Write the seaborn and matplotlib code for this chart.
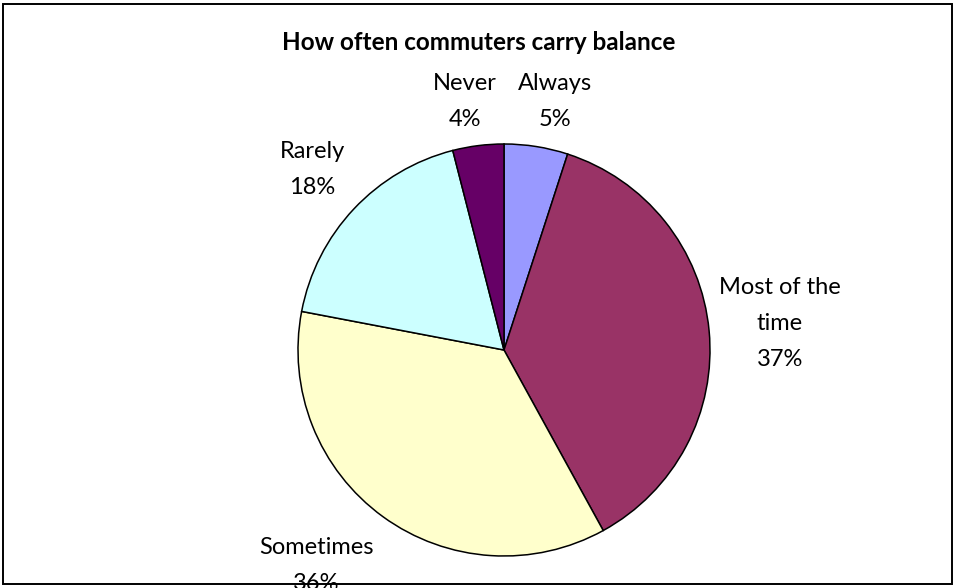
import matplotlib
matplotlib.use("Agg")
import matplotlib.pyplot as plt
from matplotlib.patches import Rectangle
import seaborn as sns

categories = ["Always", "Most of the time", "Sometimes", "Rarely", "Never"]
shares = [5, 37, 36, 18, 4]
label_lines = [["Always"], ["Most of the", "time"], ["Sometimes"], ["Rarely"], ["Never"]]
colors = ["#9999FF", "#993366", "#FFFFCC", "#CCFFFF", "#660066"]

sns.set_theme(style="white")
plt.rcParams["font.family"] = ["Lato", "DejaVu Sans"]

W, H = 955, 588
fig = plt.figure(figsize=(W / 100, H / 100), dpi=100)
ax = fig.add_axes([0, 0, 1, 1])

# pie in pixel coordinates (y measured from the bottom)
cx, cy, r = 504, H - 350, 206
ax.pie(shares, colors=colors, startangle=90, counterclock=False,
       center=(cx, cy), radius=r, frame=True,
       wedgeprops=dict(edgecolor="black", linewidth=1.1))
ax.set_xlim(0, W)
ax.set_ylim(0, H)
ax.set_aspect("equal")
ax.axis("off")

# label anchor points (center of the first text line), pixel coords from top
anchors = {
    "Always": (555, 83),
    "Most of the time": (780, 287),
    "Sometimes": (316, 547),
    "Rarely": (312, 151),
    "Never": (465, 83),
}
line_gap = 36
for cat, lines, val in zip(categories, label_lines, shares):
    x, y = anchors[cat]
    for i, line in enumerate(lines + [f"{val}%"]):
        ax.text(x, H - (y + i * line_gap), line, ha="center", va="center",
                fontsize=17, color="black", zorder=5)

ax.text(479, H - 43, "How often commuters carry balance", ha="center",
        va="center", fontsize=17.5, fontweight="bold", color="black")

ax.add_patch(Rectangle((3, H - 584), 949, 580, fill=False,
                       edgecolor="black", linewidth=1.4, zorder=0.5))

fig.savefig("out.png", dpi=100)
